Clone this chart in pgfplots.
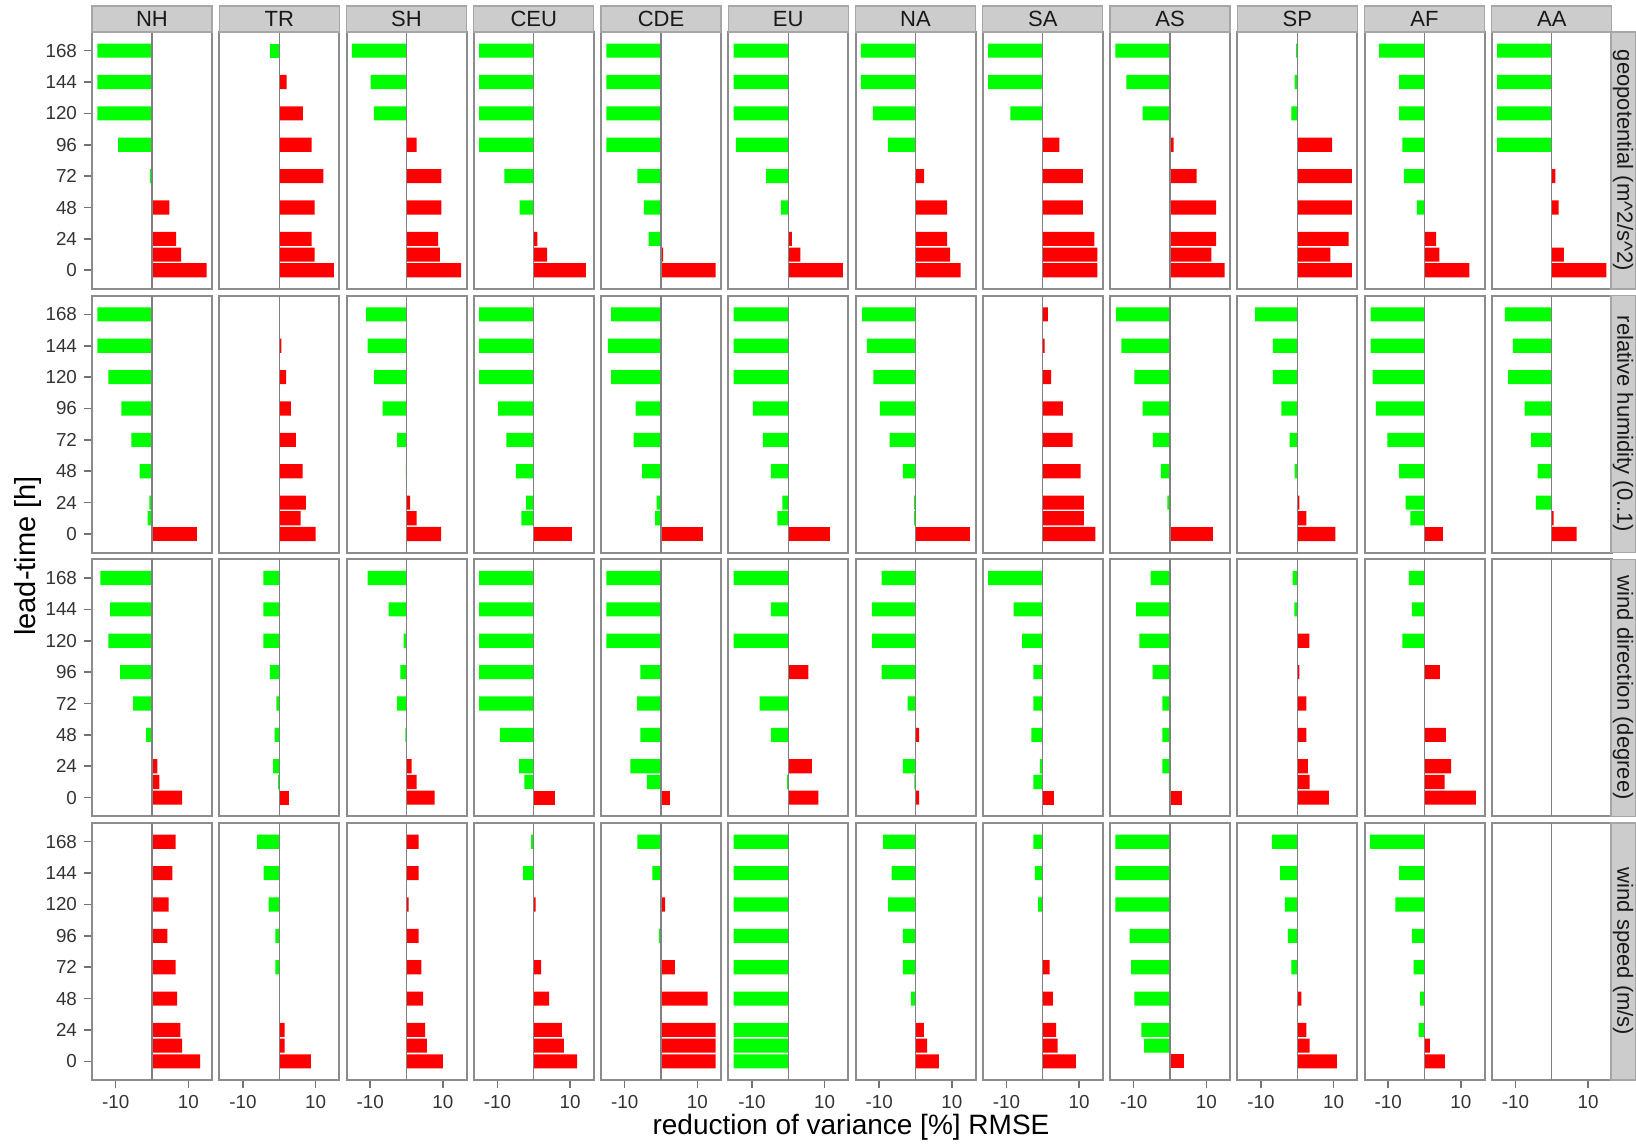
\documentclass[border=0pt]{standalone}
\usepackage{fontspec}
\setmainfont{Liberation Sans}
\usepackage{pgfplots}
\pgfplotsset{compat=1.18}
\usepackage{pgfplotstable}

\pgfplotstableread{
lead NH TR SH CEU CDE EU NA SA AS SP AF AA
0 15 15 15 14.3 15 15 12.4 15 15 15 12.3 15
12 8.0 9.7 9.2 3.7 0.6 3.3 9.5 15 11.4 9.1 4.1 3.3
24 6.6 8.9 8.7 1.0 -3.4 1.0 8.7 14.2 12.7 14.1 3.2 0
48 4.8 9.7 9.6 -3.9 -4.7 -2.0 8.7 11.0 12.7 15 -2.1 1.9
72 -0.6 12.1 9.6 -8.1 -6.5 -6.1 2.4 11.0 7.3 15 -5.7 1.0
96 -9.3 8.9 2.8 -15 -15 -14.4 -7.6 4.6 1.0 9.6 -6.1 -15
120 -15 6.5 -9.0 -15 -15 -15 -11.7 -8.9 -7.5 -1.6 -7.0 -15
144 -15 2.0 -9.9 -15 -15 -15 -15 -15 -12.0 -0.7 -7.0 -15
168 -15 -2.5 -15 -15 -15 -15 -15 -15 -15 -0.3 -12.5 -15
}\tabgeo

\pgfplotstableread{
lead NH TR SH CEU CDE EU NA SA AS SP AF AA
0 12.3 10.0 9.5 10.5 11.5 11.4 14.9 14.5 11.9 10.5 5.1 6.8
12 -1.2 5.9 2.8 -3.4 -1.6 -3.0 -0.4 11.3 -0.3 2.5 -3.9 0.5
24 -0.7 7.3 1.0 -2.1 -1.2 -1.6 -0.4 11.3 -0.7 0.6 -5.2 -4.4
48 -3.4 6.4 -0.2 -4.9 -5.2 -4.8 -3.5 10.4 -2.5 -0.7 -7.0 -3.9
72 -5.7 4.6 -2.6 -7.5 -7.5 -7.0 -7.1 8.2 -4.7 -2.1 -10.2 -5.7
96 -8.4 3.2 -6.6 -9.8 -7.0 -9.7 -9.8 5.5 -7.5 -4.4 -13.4 -7.5
120 -12.0 1.9 -8.9 -15 -13.7 -15 -11.6 2.3 -9.8 -6.7 -14.3 -12.0
144 -15 0.6 -10.7 -15 -14.6 -15 -13.4 0.5 -13.4 -6.7 -14.8 -10.7
168 -15 0 -11.1 -15 -13.7 -15 -14.7 1.4 -14.8 -11.6 -14.8 -12.9
}\tabrh

\pgfplotstableread{
lead NH TR SH CEU CDE EU NA SA AS SP AF AA
0 8.3 2.8 7.7 5.9 2.5 8.3 1.0 3.2 3.4 8.7 14.1 nan
12 2.0 -0.3 2.8 -2.6 -3.9 -0.3 -0.3 -2.6 -0.3 3.4 5.5 nan
24 1.5 -1.7 1.4 -4.0 -8.4 6.5 -3.5 -0.8 -2.1 2.9 7.3 nan
48 -1.6 -1.3 -0.3 -9.3 -5.7 -4.8 1.0 -3.1 -2.1 2.5 5.9 nan
72 -5.2 -0.8 -2.6 -15 -6.6 -7.9 -2.2 -2.6 -2.1 2.5 0 nan
96 -8.8 -2.6 -1.7 -15 -5.7 5.5 -9.3 -2.6 -4.8 0.6 4.2 nan
120 -12.0 -4.4 -0.8 -15 -15 -15 -12.0 -5.7 -8.4 3.3 -6.1 nan
144 -11.5 -4.4 -4.9 -15 -15 -4.8 -12.0 -8.0 -9.3 -0.8 -3.5 nan
168 -14.2 -4.4 -10.7 -15 -15 -15 -9.3 -15 -5.3 -1.3 -4.3 nan
}\tabwd

\pgfplotstableread{
lead NH TR SH CEU CDE EU NA SA AS SP AF AA
0 13.2 8.7 10.0 11.9 15 -15 6.4 9.1 3.8 10.9 5.6 nan
12 8.3 1.5 5.6 8.3 15 -15 3.2 4.1 -7.1 3.4 1.5 nan
24 7.8 1.5 5.1 7.7 15 -15 2.3 3.7 -7.9 2.5 -1.6 nan
48 6.9 0 4.6 4.2 12.8 -15 -1.3 2.8 -9.8 1.1 -1.2 nan
72 6.5 -1.1 4.1 2.0 3.8 -15 -3.5 1.9 -10.7 -1.6 -3.0 nan
96 4.2 -1.1 3.3 -0.2 -0.6 -15 -3.5 0 -11.1 -2.6 -3.5 nan
120 4.6 -2.9 0.6 0.5 1.1 -15 -7.5 -1.3 -15 -3.4 -8.0 nan
144 5.6 -4.3 3.3 -2.9 -2.4 -15 -6.6 -2.2 -15 -4.7 -7.0 nan
168 6.5 -6.1 3.3 -0.7 -6.5 -15 -8.9 -2.6 -15 -7.0 -15 nan
}\tabws

\pgfplotsset{
  panel/.style={
    scale only axis, width=60pt, height=128.5pt, anchor=south west,
    xmin=-16.5, xmax=16.5, ymin=-14.3, ymax=182.3,
    axis line style={black!45, line width=1pt},
    tick align=outside, major tick length=4pt,
    tick style={black!55, line width=0.8pt},
    tick label style={font=\fontsize{9.4}{11}\selectfont, text=black!80},
    /pgf/number format/assume math mode=true,
    xtick pos=bottom, ytick pos=left,
  }
}

\newcommand\panelrow[3]{%
  \foreach \reg [count=\c from 0] in {NH,TR,SH,CEU,CDE,EU,NA,SA,AS,SP,AF,AA} {
    \pgfmathsetmacro\px{(92+127.25*\c)*0.5}
    \pgfmathsetmacro\py{(1144-(289+263.67*#2))*0.5}
    \ifnum\c=0 \pgfplotsset{ysty/.style={ytick={0,24,48,72,96,120,144,168}}}\else \pgfplotsset{ysty/.style={ytick=\empty}}\fi
    \ifnum#2=3 \pgfplotsset{xsty/.style={xtick={-10,10}}}\else \pgfplotsset{xsty/.style={xtick=\empty}}\fi
    \begin{axis}[panel, ysty, xsty, at={(\px pt,\py pt)}]
      \addplot[xbar, bar width=10.8, bar shift=0pt, fill=green, draw=none, restrict x to domain=-20:0] table[x=\reg, y=lead]{#1};
      \addplot[xbar, bar width=10.8, bar shift=0pt, fill=red, draw=none, restrict x to domain=0:20] table[x=\reg, y=lead]{#1};
      \draw[black!50, line width=0.7pt] (axis cs:0,-14.3) -- (axis cs:0,182.3);
    \end{axis}
  }
  \pgfmathsetmacro\yb{(1144-(289+263.67*#2))*0.5}
  \pgfmathsetmacro\yt{\yb+128.5}
  \pgfmathsetmacro\ym{\yb+64.25}
  \filldraw[fill=black!20, draw=black!35, line width=0.7pt] (805.5pt,\yb pt) rectangle (818pt,\yt pt);
  \node[rotate=-90, font=\fontsize{11}{13}\selectfont, text=black!90] at (811.5pt,\ym pt) {#3};
}

\begin{document}
\begin{tikzpicture}
\panelrow{\tabgeo}{0}{geopotential (m\textasciicircum 2/s\textasciicircum 2)}
\panelrow{\tabrh}{1}{relative humidity (0..1)}
\panelrow{\tabwd}{2}{wind direction (degree)}
\panelrow{\tabws}{3}{wind speed (m/s)}
\foreach \reg [count=\c from 0] in {NH,TR,SH,CEU,CDE,EU,NA,SA,AS,SP,AF,AA} {
  \pgfmathsetmacro\xl{(92+127.25*\c)*0.5}
  \pgfmathsetmacro\xr{\xl+60}
  \pgfmathsetmacro\xm{\xl+30}
  \filldraw[fill=black!20, draw=black!35, line width=0.7pt] (\xl pt,569pt) rectangle (\xr pt,556pt);
  \node[font=\fontsize{11}{13}\selectfont, text=black!90] at (\xm pt,562.5pt) {\reg};
}
\node[rotate=90, font=\fontsize{14.5}{16}\selectfont] at (14pt,294pt) {lead-time [h]};
\node[font=\fontsize{14}{16}\selectfont] at (425.5pt,8.5pt) {reduction of variance [\%] RMSE};
\pgfresetboundingbox
\useasboundingbox (0,0) rectangle (818pt,572pt);
\end{tikzpicture}
\end{document}
